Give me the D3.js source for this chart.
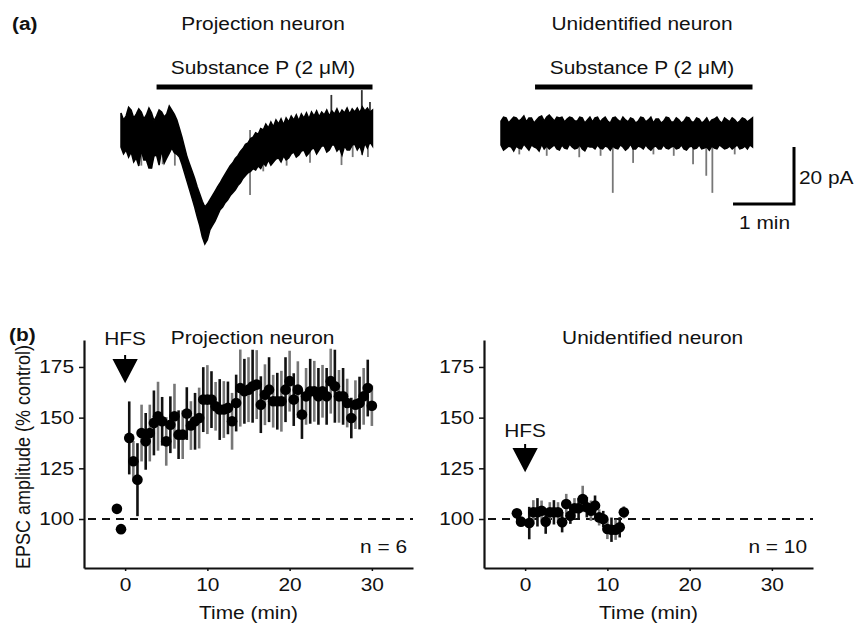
<!DOCTYPE html>
<html><head><meta charset="utf-8">
<script src="https://cdn.jsdelivr.net/npm/d3@7"></script>
<style>body{margin:0;background:#fff}svg{display:block}</style>
</head><body>
<svg id="c" width="859" height="624"></svg>
<script>
// ---------- DATA ----------
// Panel (a) traces: current envelope sampled every 2.5 s (pA relative to holding baseline)
const traceTime = d3.range(0, 248, 2.5); // 0..247.5 s (100 samples)
const projUpper = [6.0,3.5,4.9,8.0,7.0,4.2,5.6,7.4,6.3,3.9, 5.3,7.7,6.0,3.2,4.9,7.0,6.3,4.6,5.6,8.4,
  7.0,5.5,3.5,0.5,-2.5,-6.0,-9.5,-12.0,-14.5,-17.0, -20.0,-22.5,-25.0,-27.0,-26.0,-24.5,-23.0,-21.5,-20.0,-18.6,
  -17.0,-15.5,-14.0,-12.5,-11.5,-10.0,-9.0,-7.5,-6.5,-5.0, -4.5,-3.0,-2.5,-1.0,-1.5,0.5,0,2.1,0.7,2.8,
  1.1,3.5,2.1,3.9,1.8,4.2,2.8,4.9,3.5,5.3, 3.2,5.6,4.2,6.0,3.9,6.3,4.9,6.7,4.6,6.3,
  5.3,7.0,4.9,6.7,5.6,7.4,5.3,7.0,6.0,7.7, 5.6,7.4,6.3,7.7,6.0,8.1,6.7,7.7,6.3,7.0];
const projLower = [-6.0,-8.4,-7.0,-9.5,-7.7,-11.2,-9.8,-12.6,-7.0,-10.5, -10.5,-13.3,-13.3,-9.1,-8.8,-12.3,-7.0,-11.6,-9.8,-8.1,
  -6.3,-8.0,-8.5,-9.5,-12.0,-15.0,-18.0,-21.0,-24.0,-27.0, -30.5,-33.5,-37.5,-40.0,-38.5,-35.0,-33.5,-32.0,-30.0,-28.0,
  -27.0,-25.5,-24.5,-23.0,-22.0,-21.0,-19.5,-18.5,-17.0,-16.0, -15.0,-14.5,-13.5,-14.0,-12.6,-13.5,-11.6,-12.6,-10.5,-12.3,
  -11.2,-10.2,-9.8,-11.2,-9.1,-10.5,-9.8,-8.4,-7.7,-9.5, -8.8,-7.4,-7.0,-9.1,-8.1,-6.7,-6.3,-8.4,-7.0,-5.6,
  -5.6,-7.7,-7.0,-5.3,-5.3,-7.4,-6.3,-8.8,-5.6,-7.0, -7.0,-5.3,-4.9,-7.0,-5.6,-8.1,-4.6,-6.3,-4.2,-5.6];
const projSpikeT = [20, 30, 41, 53, 127, 140, 163, 186, 207, 217, 228, 237, 237, 243, 245];
const projSpikeV = [-12.5, -13.5, -12.0, -12.5, -22.8, -14.5, -12.5, -11.5, 12.3, -12.3, -9.5, 14.0, -8.8, -9.5, 9.8];

const unidUpper = [4.2,5.6,5.3,3.5,4.6,5.6,5.3,4.2,4.9,6.0, 3.9,5.3,5.3,3.5,4.6,5.6,6.0,4.2,5.6,6.3,
  5.3,4.2,5.6,5.3,5.6,3.9,4.9,5.6,5.3,4.2, 4.2,5.6,5.3,3.5,4.6,5.6,3.9,5.3,5.6,3.9,
  4.9,5.6,4.2,3.5,5.3,5.6,4.6,3.9,5.6,4.6, 3.9,5.3,4.9,3.5,4.2,5.6,5.3,3.9,4.6,5.6,
  3.5,4.9,4.9,3.5,4.2,5.6,5.3,3.9,3.9,5.3, 4.6,3.5,4.2,5.6,5.3,3.9,3.9,5.3,4.9,3.5,
  4.2,5.3,3.5,4.6,4.9,5.6,4.2,3.5,5.3,4.6, 3.9,5.3,4.6,3.5,4.2,5.3,4.9,3.9,4.6,5.3];
const unidLower = [-4.2,-6.0,-5.3,-4.6,-4.9,-6.3,-4.6,-5.3,-5.6,-3.9, -4.9,-6.0,-4.2,-4.9,-5.3,-6.3,-3.9,-5.6,-4.6,-5.6,
  -4.9,-4.2,-5.6,-6.0,-4.2,-5.3,-5.6,-3.9,-4.9,-5.6, -5.3,-4.2,-5.6,-6.3,-4.6,-4.9,-4.9,-5.6,-4.2,-5.3,
  -5.6,-4.6,-4.9,-6.0,-4.6,-5.3,-5.6,-4.2,-4.9,-6.0, -5.3,-3.9,-5.6,-5.6,-4.6,-4.9,-5.6,-4.2,-5.3,-6.0,
  -4.9,-4.6,-5.6,-5.6,-4.2,-5.3,-5.6,-4.9,-4.6,-5.6, -5.3,-4.2,-5.6,-6.0,-4.9,-4.6,-5.6,-5.3,-4.2,-5.6,
  -5.3,-4.9,-6.0,-4.6,-5.3,-5.6,-4.2,-4.9,-5.6,-5.3, -4.6,-5.6,-4.9,-4.2,-5.6,-5.3,-4.6,-5.6,-4.2,-4.9];
const unidSpikeT = [18, 45, 77, 98, 110, 130, 150, 170, 189, 202, 208, 230];
const unidSpikeV = [-7.5, -8.0, -8.5, -8.0, -21.0, -10.5, -7.5, -8.0, -11.0, -15.0, -21.0, -7.5];

// Panel (b): EPSC amplitude (% control) vs time (min)
const projTime = [-1, -0.5].concat(d3.range(0.5, 30.01, 0.5));
const projMean = [105, 95,
  140,128.5,119.4,142.4,138.3,142.4,147.4,150.7,148.2,138.3,146.5,150.7,141.6,141.6,152,146.1,148.2,149.8,158.9,158.9,
  158.9,155.6,154,154,154.8,148.2,157.2,164.6,163,163.8,165.5,166.3,156.4,161.3,163.8,158.1,158.1,158.1,163.8,168,
  158.9,163.8,151.5,160.5,163,163,160.5,163,160.5,168,165.5,160.5,160.5,157.2,149.8,156.4,157.2,160.5,164.6,155.9];
const projErr = [1, 1,
  18,10,18,14,14,14,16,17,12,12,14,16,12,12,13,12,14,15,16,17,
  14,12,15,14,13,14,14,19,16,16,18,17,14,15,16,13,14,15,16,15,
  13,14,12,14,16,15,14,13,14,16,18,13,14,12,10,12,13,14,14,10];

const unidTime = [-1, -0.5].concat(d3.range(0.5, 12.01, 0.5));
const unidMean = [102.8, 98.7, 98, 103.3, 103.3, 104.1, 98.7, 103.3, 103.3, 103.3, 98.4, 107.4, 101.6, 105.3, 105.3, 109.9, 105.8, 104.1, 106.6, 100.8, 100, 95.1, 94.7, 94.7, 95.9, 103.3];
const unidErr = [1, 1, 8, 6, 7, 5, 6, 5, 6, 5, 5, 5, 4, 5, 5, 6.5, 5, 5, 5, 4, 4, 5, 6, 5, 5, 3];

const yTicks = [100, 125, 150, 175];
const xTicks = [0, 10, 20, 30];
const panelTitles = ["Projection neuron", "Unidentified neuron"];
const nLabels = ["n = 6", "n = 10"];
const drugLabel = "Substance P (2 \u03BCM)";

// ---------- DRAW ----------
const FONT = "'Liberation Sans', Arial, Helvetica, sans-serif";
const FS = 18, SX = 1.16; // font size and horizontal stretch of the original typesetting
const svg = d3.select("#c");
svg.append("defs").append("filter").attr("id", "soft")
  .attr("x", "-5%").attr("y", "-20%").attr("width", "110%").attr("height", "140%")
  .append("feGaussianBlur").attr("stdDeviation", 0.7);
function txt(x, y, s, opt = {}) {
  return svg.append("text").attr("transform", `translate(${x},${y}) scale(${SX},1)`).text(s)
    .attr("font-family", FONT).attr("font-size", opt.size || FS)
    .attr("font-weight", opt.bold ? "bold" : "normal")
    .attr("text-anchor", opt.anchor || "middle").attr("fill", "#111");
}

txt(12, 30, "(a)", {bold: true, anchor: "start"});
txt(9, 341, "(b)", {bold: true, anchor: "start"});

// ---- Panel (a) ----
function drawTrace(x0, baseY, upper, lower, spT, spV, title, cx) {
  const x = d3.scaleLinear().domain([0, 247.5]).range([x0, x0 + 251.5]);
  const y = d3.scaleLinear().domain([-40, 20]).range([baseY + 114, baseY - 57]);
  const pts = traceTime.map((t, i) => ({t, hi: upper[i], lo: lower[i]}));
  const g = svg.append("g").attr("filter", "url(#soft)");
  spT.forEach((t, i) => {
    g.append("line").attr("x1", x(t)).attr("x2", x(t))
      .attr("y1", y(0)).attr("y2", y(spV[i]))
      .attr("stroke", spV[i] > 0 ? "#333" : "#777").attr("stroke-width", 1.8);
  });
  g.append("path").datum(pts)
    .attr("d", d3.area().x(d => x(d.t)).y0(d => y(d.lo)).y1(d => y(d.hi)))
    .attr("fill", "#000").attr("stroke", "#000").attr("stroke-width", 1.5);
  txt(cx, 30, title);
  txt(cx, 74, drugLabel);
  return {x, y};
}
const tA1 = drawTrace(121, 130, projUpper, projLower, projSpikeT, projSpikeV, panelTitles[0], 263);
svg.append("line").attr("x1", tA1.x(35)).attr("x2", tA1.x(247.5)).attr("y1", 87).attr("y2", 87)
  .attr("stroke", "#000").attr("stroke-width", 5);
const tA2 = drawTrace(501, 133, unidUpper, unidLower, unidSpikeT, unidSpikeV, panelTitles[1], 642);
svg.append("line").attr("x1", tA2.x(33.5)).attr("x2", tA2.x(247.5)).attr("y1", 87).attr("y2", 87)
  .attr("stroke", "#000").attr("stroke-width", 5);
// scale bar: 20 pA, 1 min
{
  const sbX = 794, sbY = 204;
  const t0 = tA2.x.invert(sbX);
  const xL = tA2.x(t0 - 60);
  const p0 = tA2.y.invert(sbY);
  const yT = tA2.y(p0 + 20);
  svg.append("path").attr("d", `M${xL},${sbY}H${sbX}V${yT}`)
    .attr("fill", "none").attr("stroke", "#000").attr("stroke-width", 3);
  txt(799, 184, "20 pA", {anchor: "start"});
  txt((xL + sbX) / 2 + 1, 229, "1 min");
}

// ---- Panel (b) ----
function drawPanel(x0, time, mean, err, title, nLab, hfsTextY, hfsTriY) {
  const x = d3.scaleLinear().domain([-5, 35]).range([x0, x0 + 329]);
  const y = d3.scaleLinear().domain([75.83, 188.3]).range([568, 340]);
  const g = svg.append("g");
  const ax = g.append("g").attr("transform", "translate(0,568)")
    .call(d3.axisBottom(x).tickValues(xTicks).tickSize(3).tickSizeOuter(0).tickPadding(7));
  const ay = g.append("g").attr("transform", `translate(${x0},0)`)
    .call(d3.axisLeft(y).tickValues(yTicks).tickSize(5).tickSizeOuter(0).tickPadding(4));
  [ax, ay].forEach(a => {
    a.select(".domain").attr("stroke", "#111").attr("stroke-width", 2.2);
    a.selectAll(".tick line").attr("stroke", "#111").attr("stroke-width", 1.5);
    a.selectAll(".tick text").attr("font-family", FONT).attr("font-size", FS).attr("fill", "#111");
  });
  ax.selectAll(".tick text").attr("transform", `scale(${SX},1)`);
  ay.selectAll(".tick text").attr("x", -10 / SX).attr("transform", `scale(${SX},1)`);
  g.append("line").attr("x1", x(-5) + 4).attr("x2", x(35)).attr("y1", y(100)).attr("y2", y(100))
    .attr("stroke", "#111").attr("stroke-width", 2).attr("stroke-dasharray", "8,6");
  time.forEach((t, i) => {
    g.append("line").attr("x1", x(t)).attr("x2", x(t))
      .attr("y1", y(mean[i] - err[i])).attr("y2", y(mean[i] + err[i]))
      .attr("stroke", i % 2 ? "#777" : "#111").attr("stroke-width", 2.6);
  });
  g.selectAll("circle.p").data(time).enter().append("circle")
    .attr("cx", d => x(d)).attr("cy", (d, i) => y(mean[i])).attr("r", 5.3).attr("fill", "#000");
  txt(x(15.5), 344, title);
  txt(x(15), 619, "Time (min)");
  txt(x(35) - 6, 553, nLab, {anchor: "end"});
  const cx = x(0);
  txt(cx, hfsTextY, "HFS");
  g.append("path")
    .attr("d", `M${cx},${hfsTriY - 5}V${hfsTriY}M${cx - 11},${hfsTriY}H${cx + 11}L${cx},${hfsTriY + 21}Z`)
    .attr("fill", "#000").attr("stroke", "#000").attr("stroke-width", 2);
}
drawPanel(84, projTime, projMean, projErr, panelTitles[0], nLabels[0], 345, 360);
drawPanel(484, unidTime, unidMean, unidErr, panelTitles[1], nLabels[1], 437, 449);

svg.append("text").attr("transform", `translate(30,457) scale(${SX},1) rotate(-90)`)
  .attr("text-anchor", "middle").attr("font-family", FONT).attr("font-size", FS).attr("fill", "#111")
  .text("EPSC amplitude (% control)");
</script>
</body></html>
